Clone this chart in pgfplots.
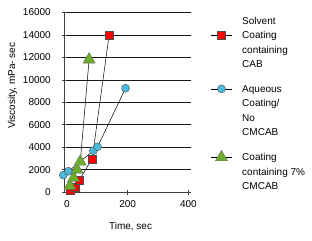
\documentclass[border=0pt]{standalone}
\usepackage{fontspec}
\setmainfont{Liberation Sans}
\usepackage{pgfplots}
\pgfplotsset{compat=1.18}
\definecolor{cred}{HTML}{FF0000}
\definecolor{cblue}{HTML}{4BB9D9}
\definecolor{cgreen}{HTML}{6CAE2C}
\renewcommand{\arraystretch}{1.2}
\begin{document}
\begin{tikzpicture}
\useasboundingbox (-64.5pt,-48pt) rectangle (247.5pt,192pt);
\begin{axis}[
  scale only axis, width=126pt, height=179.5pt,
  at={(0,0)}, anchor=south west,
  xmin=-8, xmax=407, ymin=0, ymax=16000,
  axis lines=left, axis line style={-, black!75, line width=0.6pt},
  ytick={0,2000,...,16000}, xtick={0,200,400},
  ymajorgrids, grid style={black!90, line width=0.6pt},
  tick align=center, major tick length=5pt, tick style={black!75, line width=0.6pt},
  scaled y ticks=false,
  /pgf/number format/1000 sep={}, /pgf/number format/assume math mode=true,
  yticklabel style={inner sep=0pt, anchor=east, xshift=-11pt},
  xticklabel style={inner sep=0pt, anchor=north, yshift=-6pt},
  xlabel={Time, sec}, ylabel={Viscosity, mPa- sec},
  xlabel style={at={(axis description cs:0.524,-0.194)}, anchor=center},
  ylabel style={at={(axis description cs:-0.413,0.592)}, anchor=center},
  clip=false,
  legend style={at={(axis description cs:1.159,0.911)}, anchor=north west, draw=none, fill=none,
    inner sep=0pt, row sep=10.4pt, column sep=10pt,
    nodes={inner sep=0pt, text depth=, text height=}, cells={anchor=base west}},
  legend image code/.code={\draw[#1,mark repeat=2,mark phase=2] plot coordinates {(0pt,3.5pt) (10.5pt,3.5pt) (21pt,3.5pt)};},
]
\addplot[black, line width=0.5pt, mark=square*, mark size=4pt, mark options={fill=cred, draw=black!70, line width=0.4pt}]
  coordinates {(10,150) (28,450) (40,1050) (83,2950) (139,14000)};
\addlegendentry{\begin{tabular}[t]{@{}l@{}}\rlap{\raisebox{14.4pt}[0pt][0pt]{Solvent}}Coating\\containing\\CAB\end{tabular}}
\addplot[black, line width=0.5pt, mark=*, mark size=4pt, mark options={fill=cblue, draw=black!70, line width=0.4pt}]
  coordinates {(-12,1500) (5,1850) (87,3680) (101,4030) (193,9250)};
\addlegendentry{\begin{tabular}[t]{@{}l@{}}Aqueous\\Coating/\\No\\CMCAB\end{tabular}}
\addplot[black, line width=0.5pt, mark=triangle*, mark size=7pt, mark options={fill=cgreen, draw=black!60, line width=0.4pt}]
  coordinates {(10,550) (22,1250) (33,2000) (44,2700) (73,11800)};
\addlegendentry{\begin{tabular}[t]{@{}l@{}}Coating\\containing 7\%\\CMCAB\end{tabular}}
\end{axis}
\end{tikzpicture}
\end{document}
